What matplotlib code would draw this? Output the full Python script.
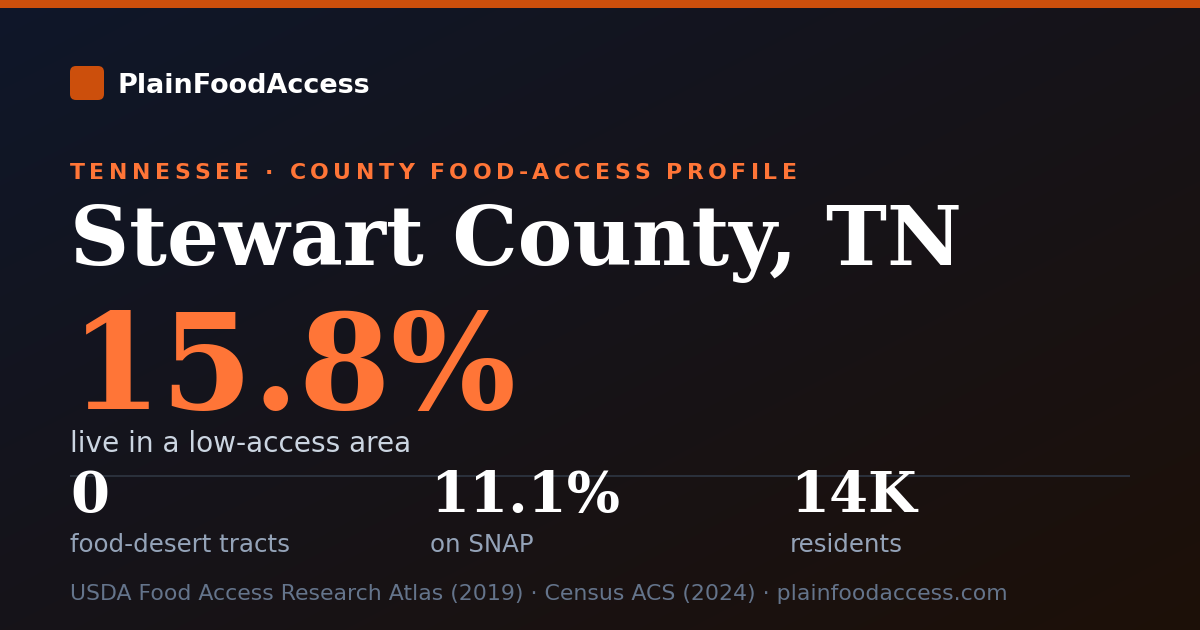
import matplotlib

matplotlib.use("Agg")
import matplotlib.pyplot as plt
import numpy as np
from matplotlib.patches import FancyBboxPatch, Rectangle

# ---- card content -----------------------------------------------------------
brand = "PlainFoodAccess"
state = "TENNESSEE"
kicker = "COUNTY FOOD-ACCESS PROFILE"
county = "Stewart County, TN"
low_access_pct = 15.8
low_access_label = "live in a low-access area"
stat_values = ["0", "11.1%", "14K"]
stat_labels = ["food-desert tracts", "on SNAP", "residents"]
sources = ["USDA Food Access Research Atlas (2019)", "Census ACS (2024)", "plainfoodaccess.com"]

W, H = 1200, 630
PX = 0.72  # px -> pt at dpi 100

ORANGE = "#ff7537"
ORANGE_DARK = "#cc4f0c"

fig = plt.figure(figsize=(W / 100, H / 100), dpi=100)
ax = fig.add_axes([0, 0, 1, 1])
ax.set_xlim(0, W)
ax.set_ylim(H, 0)
ax.axis("off")

# diagonal background gradient, navy top-left -> dark brown bottom-right
c0 = np.array([0x0f, 0x17, 0x2a]) / 255
c1 = np.array([0x1d, 0x10, 0x08]) / 255
yy, xx = np.mgrid[0:H, 0:W]
t = np.clip((xx / W + yy / H) / 2, 0, 1)[..., None]
ax.imshow(c0 * (1 - t) + c1 * t, extent=(0, W, H, 0), aspect="auto", zorder=0)

# top accent bar
ax.add_patch(Rectangle((0, 0), W, 8, color=ORANGE_DARK, lw=0, zorder=1))

# brand mark
ax.add_patch(
    FancyBboxPatch((70, 66), 34, 34, boxstyle="round,pad=0,rounding_size=6",
                   color=ORANGE_DARK, lw=0, zorder=2)
)
ax.text(118, 93, brand, color="white", fontsize=27 * PX, fontweight="bold",
        family="DejaVu Sans", va="baseline", ha="left", zorder=3)

# letter-spaced kicker line
fig.canvas.draw()
renderer = fig.canvas.get_renderer()


def text_width(s, **kw):
    tx = ax.text(0, 0, s, **kw)
    bb = tx.get_window_extent(renderer)
    tx.remove()
    return bb.width  # 1 data unit == 1 px here


def spaced_text(x, y, s, spacing, **kw):
    space_w = text_width("T T", **kw) - text_width("TT", **kw)
    for ch in s:
        if ch == " ":
            x += space_w + spacing
            continue
        ax.text(x, y, ch, va="baseline", ha="left", **kw)
        x += text_width(ch, **kw) + spacing


kick_kw = dict(color=ORANGE, fontsize=22 * PX, fontweight="bold", family="DejaVu Sans")
spaced_text(70, 179, f"{state} · {kicker}", 4.45, **kick_kw)

# county name
ax.text(70, 265, county, color="white", fontsize=82 * PX, fontweight="bold",
        family="DejaVu Serif", va="baseline", ha="left")

# headline number
ax.text(70, 409, f"{low_access_pct:.1f}%", color=ORANGE, fontsize=132 * PX,
        fontweight="bold", family="DejaVu Serif", va="baseline", ha="left")
ax.text(70, 452, low_access_label, color="#cbd5e1", fontsize=28 * PX,
        family="DejaVu Sans", va="baseline", ha="left")

# divider
ax.plot([70, 1130], [475.5, 475.5], color="#2a303b", lw=2 * PX, solid_capstyle="butt")

# stat row
for i, (val, lab) in enumerate(zip(stat_values, stat_labels)):
    x = 70 + 360 * i
    ax.text(x, 512, val, color="white", fontsize=56 * PX, fontweight="bold",
            family="DejaVu Serif", va="baseline", ha="left")
    ax.text(x, 552, lab, color="#94a3b8", fontsize=24.5 * PX,
            family="DejaVu Sans", va="baseline", ha="left")

# footer
ax.text(70, 600, " · ".join(sources), color="#64748b", fontsize=22 * PX,
        family="DejaVu Sans", va="baseline", ha="left")

fig.savefig("out.png", dpi=100)
